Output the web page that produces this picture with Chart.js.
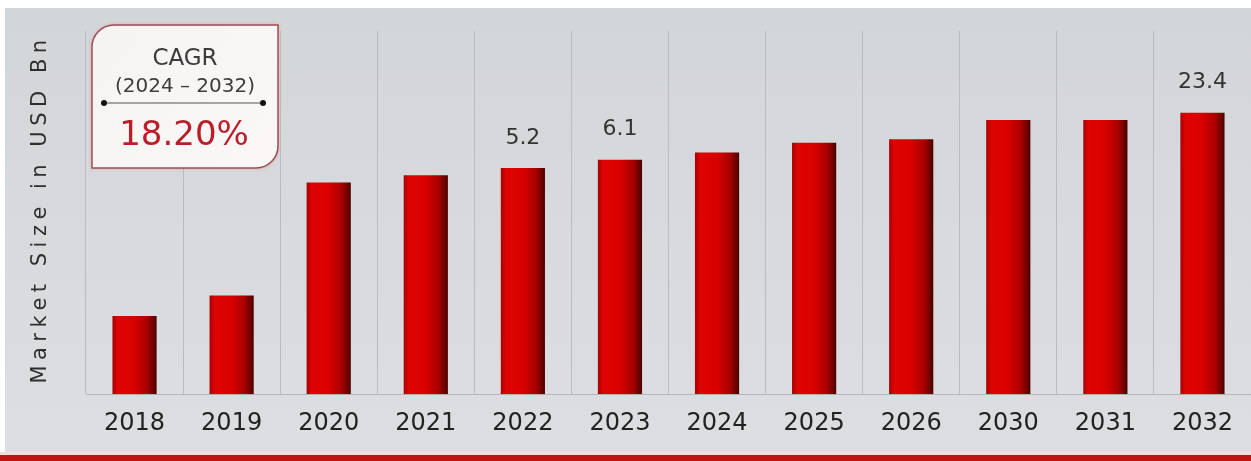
<!DOCTYPE html>
<html>
<head>
<meta charset="utf-8">
<script src="https://cdn.jsdelivr.net/npm/chart.js@4/dist/chart.umd.min.js"></script>
<style>
  html, body { margin: 0; padding: 0; background: #ffffff; }
  #wrap { width: 1251px; height: 461px; }
</style>
</head>
<body>
<div id="wrap"><canvas id="c" width="1251" height="461"></canvas></div>
<script>
// ---- data ----
const categories = ['2018', '2019', '2020', '2021', '2022', '2023', '2024', '2025', '2026', '2030', '2031', '2032'];
// bar heights as drawn (unit chosen so that the 2032 bar equals its printed 23.4)
const marketSize = [6.5, 8.2, 17.6, 18.2, 18.8, 19.5, 20.1, 20.9, 21.2, 22.8, 22.8, 23.4];
// value labels printed above some bars
const valueLabels = ['', '', '', '', '5.2', '6.1', '', '', '', '', '', '23.4'];
const yAxisTitle = 'Market Size in USD Bn';
const cagrTitle = 'CAGR';
const cagrPeriod = '(2024 – 2032)';
const cagrValue = '18.20%';
const yMax = 30.2;

const FONT = '"DejaVu Sans", Verdana, sans-serif';

const backgroundPlugin = {
  id: 'bg',
  beforeDraw(chart) {
    const ctx = chart.ctx, W = chart.width, H = chart.height;
    ctx.save();
    ctx.fillStyle = '#ffffff';
    ctx.fillRect(0, 0, W, H);
    const g = ctx.createLinearGradient(0, 8, 0, 452);
    g.addColorStop(0, '#d3d6d9');
    g.addColorStop(1, '#dcdee1');
    ctx.fillStyle = g;
    ctx.fillRect(5, 8, W - 5, 444);
    ctx.fillStyle = '#f3dcdc';
    ctx.fillRect(0, 452, W, 3);
    ctx.fillStyle = '#bf1414';
    ctx.fillRect(0, 455, W, 6);
    ctx.restore();
  }
};

const yTitlePlugin = {
  id: 'ytitle',
  afterDraw(chart) {
    const ctx = chart.ctx;
    ctx.save();
    ctx.translate(41, 212);
    ctx.rotate(-Math.PI / 2);
    ctx.font = '21px ' + FONT;
    ctx.fillStyle = '#2e2e2e';
    ctx.textAlign = 'center';
    ctx.textBaseline = 'middle';
    try { ctx.letterSpacing = '5.5px'; } catch (e) {}
    ctx.fillText(yAxisTitle, 3, 0);
    ctx.restore();
  }
};

const valueLabelPlugin = {
  id: 'vlabels',
  afterDatasetsDraw(chart) {
    const ctx = chart.ctx;
    const meta = chart.getDatasetMeta(0);
    ctx.save();
    ctx.font = '22px ' + FONT;
    ctx.fillStyle = '#333333';
    ctx.textAlign = 'center';
    ctx.textBaseline = 'middle';
    meta.data.forEach((bar, i) => {
      const t = valueLabels[i];
      if (t) ctx.fillText(t, bar.x, bar.y - 30);
    });
    ctx.restore();
  }
};

const cagrPlugin = {
  id: 'cagr',
  afterDraw(chart) {
    const ctx = chart.ctx;
    const L = 92, T = 25, R = 278, B = 168, r = 22;
    ctx.save();
    ctx.beginPath();
    ctx.moveTo(L + r, T);
    ctx.lineTo(R, T);
    ctx.lineTo(R, B - r);
    ctx.arcTo(R, B, R - r, B, r);
    ctx.lineTo(L, B);
    ctx.lineTo(L, T + r);
    ctx.arcTo(L, T, L + r, T, r);
    ctx.closePath();
    ctx.shadowColor = 'rgba(235,120,130,0.7)';
    ctx.shadowBlur = 4;
    const g = ctx.createLinearGradient(L, T, R, B);
    g.addColorStop(0, '#f6f3f3');
    g.addColorStop(1, '#fbf7f7');
    ctx.fillStyle = g;
    ctx.fill();
    ctx.shadowBlur = 0;
    ctx.shadowColor = 'transparent';
    ctx.lineWidth = 1.5;
    ctx.strokeStyle = '#9a4f57';
    ctx.stroke();

    const cx = (L + R) / 2;
    ctx.textAlign = 'center';
    ctx.textBaseline = 'middle';
    ctx.fillStyle = '#3c3c3c';
    ctx.font = '23px ' + FONT;
    ctx.fillText(cagrTitle, cx, 59);
    ctx.font = '20px ' + FONT;
    ctx.fillText(cagrPeriod, cx, 87);

    ctx.strokeStyle = '#8a8a8a';
    ctx.lineWidth = 1.5;
    ctx.beginPath();
    ctx.moveTo(104, 103);
    ctx.lineTo(263, 103);
    ctx.stroke();
    ctx.fillStyle = '#111111';
    [104, 263].forEach(x => {
      ctx.beginPath();
      ctx.arc(x, 103, 3, 0, Math.PI * 2);
      ctx.fill();
    });

    ctx.fillStyle = '#b91f2b';
    ctx.font = '34px ' + FONT;
    ctx.fillText(cagrValue, cx - 1, 136);
    ctx.restore();
  }
};

function barGradient(context) {
  const chart = context.chart;
  const xs = chart.scales && chart.scales.x;
  if (!chart.chartArea || !xs) return '#d40000';
  const cx = xs.getPixelForValue(context.dataIndex);
  const w = (chart.chartArea.right - chart.chartArea.left) / categories.length * 0.455;
  if (!isFinite(cx) || !isFinite(w)) return '#d40000';
  const g = chart.ctx.createLinearGradient(cx - w / 2, 0, cx + w / 2, 0);
  g.addColorStop(0, '#a80000');
  g.addColorStop(0.12, '#de0404');
  g.addColorStop(0.5, '#d90000');
  g.addColorStop(0.8, '#a60000');
  g.addColorStop(1, '#4a0000');
  return g;
}

new Chart(document.getElementById('c'), {
  type: 'bar',
  data: {
    labels: categories,
    datasets: [{
      label: yAxisTitle,
      data: marketSize,
      backgroundColor: barGradient,
      borderWidth: 0,
      categoryPercentage: 1,
      barPercentage: 0.455
    }]
  },
  options: {
    responsive: false,
    animation: false,
    devicePixelRatio: 1,
    layout: { padding: { left: 86, right: 0, top: 31, bottom: 8 } },
    plugins: {
      legend: { display: false },
      tooltip: { enabled: false },
      title: { display: false }
    },
    scales: {
      x: {
        offset: true,
        grid: {
          display: true,
          offset: true,
          drawTicks: false,
          color: '#b9bcbf',
          lineWidth: 1
        },
        border: { display: true, color: '#b4b7ba', width: 1 },
        ticks: {
          padding: 15,
          color: '#222222',
          font: { family: FONT, size: 24 }
        }
      },
      y: {
        display: false,
        min: 0,
        max: yMax
      }
    }
  },
  plugins: [backgroundPlugin, valueLabelPlugin, cagrPlugin, yTitlePlugin]
});
</script>
</body>
</html>
